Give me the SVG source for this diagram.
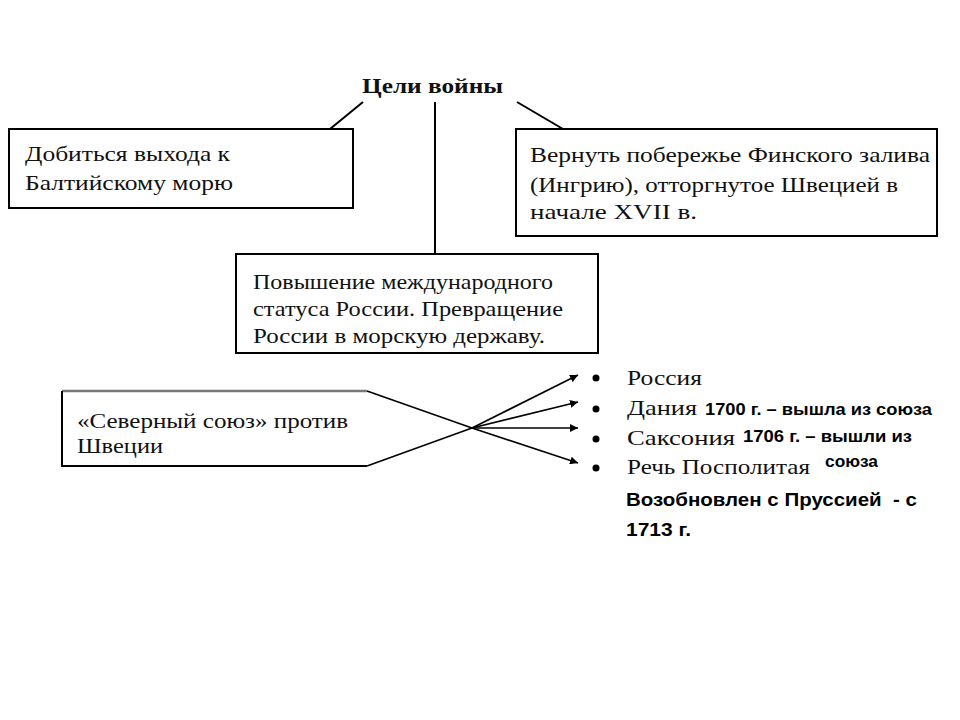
<svg xmlns="http://www.w3.org/2000/svg" width="960" height="720" viewBox="0 0 960 720">
<style>
.box{fill:#fff;stroke:#000;stroke-width:2}
.s{font-family:"Liberation Serif","Times New Roman",serif;font-size:22px;fill:#111}
.t{font-family:"Liberation Serif","Times New Roman",serif;font-size:22px;font-weight:bold;fill:#111}
.n{font-family:"Liberation Sans",Arial,sans-serif;font-weight:bold;fill:#000}
.c{stroke:#000;stroke-width:2;fill:none}
.a{stroke:#000;stroke-width:1.6;fill:none}
</style>
<defs>
<marker id="ah" viewBox="0 0 10 10" refX="10" refY="5" markerWidth="8" markerHeight="8" markerUnits="userSpaceOnUse" orient="auto">
<path d="M0,0 L10,5 L0,10 z" fill="#000"/>
</marker>
</defs>
<rect width="960" height="720" fill="#fff"/>
<g id="connectors">
<line class="c" x1="363" y1="102" x2="330" y2="129"/>
<line class="c" x1="435" y1="102" x2="435" y2="254"/>
<line class="c" x1="517" y1="102" x2="563" y2="129"/>
<line class="a" x1="367" y1="391" x2="472" y2="428"/>
<line class="a" x1="367" y1="466" x2="472" y2="428"/>
<line class="a" x1="472" y1="428" x2="578" y2="375" marker-end="url(#ah)"/>
<line class="a" x1="472" y1="428" x2="578" y2="402" marker-end="url(#ah)"/>
<line class="a" x1="472" y1="428" x2="578" y2="428" marker-end="url(#ah)"/>
<line class="a" x1="472" y1="428" x2="578" y2="463" marker-end="url(#ah)"/>
</g>
<g id="title">
<text class="t" x="362" y="93" textLength="141" lengthAdjust="spacingAndGlyphs">Цели войны</text>
</g>
<g id="goal-baltic">
<rect class="box" x="9" y="129" width="344" height="79"/>
<text class="s" x="25" y="161" textLength="205" lengthAdjust="spacingAndGlyphs">Добиться выхода к</text>
<text class="s" x="25" y="190" textLength="208" lengthAdjust="spacingAndGlyphs">Балтийскому морю</text>
</g>
<g id="goal-finland">
<rect class="box" x="516" y="129" width="421" height="107"/>
<text class="s" x="530" y="162" textLength="400" lengthAdjust="spacingAndGlyphs">Вернуть побережье Финского залива</text>
<text class="s" x="530" y="192" textLength="368" lengthAdjust="spacingAndGlyphs">(Ингрию), отторгнутое Швецией в</text>
<text class="s" x="530" y="219" textLength="167" lengthAdjust="spacingAndGlyphs">начале XVII в.</text>
</g>
<g id="goal-status">
<rect class="box" x="236" y="254" width="362" height="99"/>
<text class="s" x="253" y="289" textLength="300" lengthAdjust="spacingAndGlyphs">Повышение международного</text>
<text class="s" x="253" y="316" textLength="310" lengthAdjust="spacingAndGlyphs">статуса России. Превращение</text>
<text class="s" x="253" y="343" textLength="292" lengthAdjust="spacingAndGlyphs">России в морскую державу.</text>
</g>
<g id="northern-union">
<path d="M62,391 L367,391" stroke="#777" stroke-width="2.5" fill="none"/>
<path d="M62,391 L62,466 L367,466" stroke="#000" stroke-width="2" fill="none"/>
<text class="s" x="77" y="428" textLength="271" lengthAdjust="spacingAndGlyphs">«Северный союз» против</text>
<text class="s" x="77" y="453" textLength="86" lengthAdjust="spacingAndGlyphs">Швеции</text>
</g>
<g id="members">
<circle cx="596" cy="378" r="3.5" fill="#000"/>
<circle cx="596" cy="409" r="3.5" fill="#000"/>
<circle cx="596" cy="439" r="3.5" fill="#000"/>
<circle cx="596" cy="468" r="3.5" fill="#000"/>
<text class="s" x="627" y="385" textLength="75" lengthAdjust="spacingAndGlyphs">Россия</text>
<text class="s" x="627" y="415" textLength="70" lengthAdjust="spacingAndGlyphs">Дания</text>
<text class="s" x="627" y="445" textLength="108" lengthAdjust="spacingAndGlyphs">Саксония</text>
<text class="s" x="627" y="474" textLength="183" lengthAdjust="spacingAndGlyphs">Речь Посполитая</text>
<text class="n" x="705" y="415" font-size="17" textLength="227" lengthAdjust="spacingAndGlyphs">1700 г. – вышла из союза</text>
<text class="n" x="743" y="442" font-size="17" textLength="169" lengthAdjust="spacingAndGlyphs">1706 г. – вышли из</text>
<text class="n" x="825" y="467" font-size="17" textLength="53" lengthAdjust="spacingAndGlyphs">союза</text>
<text class="n" x="626" y="506" font-size="19" xml:space="preserve" textLength="291" lengthAdjust="spacingAndGlyphs">Возобновлен с Пруссией  - с</text>
<text class="n" x="626" y="536" font-size="19" textLength="65" lengthAdjust="spacingAndGlyphs">1713 г.</text>
</g>
</svg>
